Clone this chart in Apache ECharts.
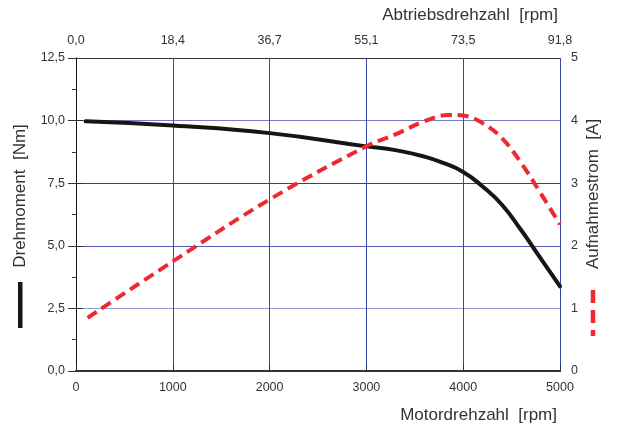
<!DOCTYPE html>
<html>
<head>
<meta charset="utf-8">
<script src="https://cdn.jsdelivr.net/npm/echarts@6/dist/echarts.min.js"></script>
<style>
html,body{margin:0;padding:0;background:#fff;}
#chart{width:619px;height:429px;}
</style>
</head>
<body>
<div id="chart"></div>
<script>
// ---- data ----
const motorTicks = [0, 1000, 2000, 3000, 4000, 5000];
const outputTickLabels = ['0,0', '18,4', '36,7', '55,1', '73,5', '91,8'];

const torqueRpm = [100, 1000, 2000, 3000, 3300, 3600, 3800, 4000, 4200, 4400, 4600, 4800, 5000];
const torqueNm  = [9.97, 9.8, 9.5, 8.97, 8.82, 8.56, 8.3, 7.95, 7.37, 6.64, 5.62, 4.5, 3.38];

const currentRpm = [120, 1000, 2000, 3000, 3300, 3600, 3850, 4000, 4200, 4400, 4600, 4800, 5000];
const currentA   = [0.85, 1.75, 2.74, 3.59, 3.78, 3.99, 4.09, 4.08, 3.96, 3.72, 3.32, 2.84, 2.34];

const xTitle = 'Motordrehzahl  [rpm]';
const x2Title = 'Abtriebsdrehzahl  [rpm]';
const yTitle = 'Drehmoment  [Nm]';
const y2Title = 'Aufnahmestrom  [A]';

// ---- chart ----
const FONT = '"Liberation Sans", Arial, Helvetica, sans-serif';
const chart = echarts.init(document.getElementById('chart'), null, {renderer: 'canvas'});

const torqueData = torqueRpm.map((r, i) => [r, torqueNm[i]]);
const currentData = currentRpm.map((r, i) => [r, currentA[i]]);

const labelStyle = {color: '#333', fontSize: 12.5, fontFamily: FONT};

const option = {
  animation: false,
  backgroundColor: '#fff',
  grid: {left: 76, right: 59, top: 58, bottom: 58, containLabel: false, outerBoundsMode: 'none'},
  xAxis: [
    {
      type: 'value', position: 'bottom', min: motorTicks[0], max: motorTicks[motorTicks.length - 1], interval: 1000,
      axisLine: {show: true, lineStyle: {color: '#222', width: 1.5}},
      axisTick: {show: false},
      axisLabel: Object.assign({margin: 10, formatter: (v) => String(v)}, labelStyle),
      splitLine: {show: true, lineStyle: {color: '#3a44b2', width: 1}}
    },
    {
      type: 'value', position: 'top', min: motorTicks[0], max: motorTicks[motorTicks.length - 1], interval: 1000,
      axisLine: {show: true, lineStyle: {color: '#333', width: 2}},
      axisTick: {show: true, inside: false, length: 6, lineStyle: {color: '#333', width: 1}},
      axisLabel: Object.assign({margin: 11, formatter: (v) => outputTickLabels[motorTicks.indexOf(v)]}, labelStyle),
      splitLine: {show: false}
    }
  ],
  yAxis: [
    {
      type: 'value', position: 'left', min: 0, max: 12.5, interval: 2.5,
      axisLine: {show: true, lineStyle: {color: '#111', width: 1}},
      axisTick: {show: true, length: 8, lineStyle: {color: '#333', width: 1}},
      minorTick: {show: true, splitNumber: 2, length: 4, lineStyle: {color: '#333', width: 1}},
      axisLabel: Object.assign({margin: 11, formatter: (v) => v.toFixed(1).replace('.', ',')}, labelStyle),
      splitLine: {show: true, lineStyle: {color: ['#333', '#959bcf', '#5058b4', '#353ca0', '#747cc6', '#333'], width: 1}}
    },
    {
      type: 'value', position: 'right', min: 0, max: 5, interval: 1,
      axisLine: {show: true, lineStyle: {color: '#111', width: 1}},
      axisTick: {show: true, length: 7, lineStyle: {color: '#333', width: 1}},
      axisLabel: Object.assign({margin: 11, formatter: (v) => String(v)}, labelStyle),
      splitLine: {show: false}
    }
  ],
  series: [
    {
      name: 'Drehmoment', type: 'line', xAxisIndex: 0, yAxisIndex: 0,
      data: torqueData, smooth: 0.5, showSymbol: false, z: 3,
      lineStyle: {color: '#161616', width: 4, cap: 'round'}
    },
    {
      name: 'Aufnahmestrom', type: 'line', xAxisIndex: 0, yAxisIndex: 1,
      data: currentData, smooth: 0.4, showSymbol: false, z: 4,
      lineStyle: {color: '#ee2a30', width: 4, type: [11, 6]}
    }
  ],
  graphic: [
    {type: 'text', x: 557, y: 415, silent: true,
     style: {text: xTitle, fill: '#333', font: '17px ' + FONT, align: 'right', verticalAlign: 'middle'}},
    {type: 'text', x: 558, y: 15, silent: true,
     style: {text: x2Title, fill: '#333', font: '17px ' + FONT, align: 'right', verticalAlign: 'middle'}},
    {type: 'text', x: 20, y: 196, rotation: Math.PI / 2, silent: true,
     style: {text: yTitle, fill: '#333', font: '17px ' + FONT, align: 'center', verticalAlign: 'middle'}},
    {type: 'text', x: 593, y: 194, rotation: Math.PI / 2, silent: true,
     style: {text: y2Title, fill: '#333', font: '17px ' + FONT, align: 'center', verticalAlign: 'middle'}},
    {type: 'rect', shape: {x: 18, y: 282, width: 4.5, height: 46}, silent: true, style: {fill: '#161616'}},
    {type: 'line', shape: {x1: 593, y1: 290, x2: 593, y2: 336}, silent: true,
     style: {stroke: '#ee2a30', lineWidth: 4.5, lineDash: [13, 7]}}
  ]
};
chart.setOption(option);
</script>
</body>
</html>
